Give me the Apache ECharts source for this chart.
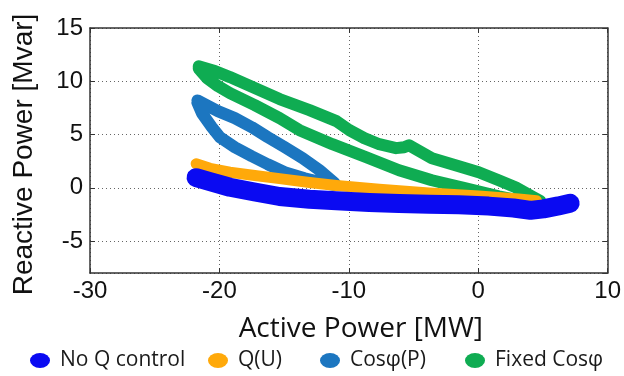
<!DOCTYPE html>
<html>
<head>
<meta charset="utf-8">
<script src="https://cdn.jsdelivr.net/npm/echarts@6/dist/echarts.min.js"></script>
<style>html,body{margin:0;padding:0;background:#fff}#c{width:624px;height:376px}</style>
</head>
<body>
<div id="c"></div>
<script>
// Series names (legend)
var seriesNames = ['No Q control', 'Q(U)', 'Cos\u03c6(P)', 'Fixed Cos\u03c6'];
// Axis ticks
var xTicks = [-30, -20, -10, 0, 10];
var yTicks = [-5, 0, 5, 10, 15];

// No Q control: [active power MW, reactive power Mvar]
var noQ = [[-21.8,0.95],[-20.73,0.58],[-19.19,0.05],[-17.27,-0.4],[-15.35,-0.82],[-13.04,-1.08],[-10.96,-1.22],[-8.42,-1.38],[-6.12,-1.47],[-3.81,-1.55],[-1.5,-1.6],[0.81,-1.72],[2.73,-1.9],[4.04,-2.12],[5.04,-1.98],[6.19,-1.7],[7.1,-1.45]];
// Q(U)
var qU = [[-21.8,2.25],[-20.73,1.83],[-19.19,1.46],[-17.27,1.16],[-15.35,0.86],[-13.04,0.5],[-10.96,0.22],[-7.65,-0.14],[-3.81,-0.5],[0.04,-0.78],[3.12,-1.06],[4.5,-1.22]];
// Cos phi(P): upper branch (tip -> right), lower branch (right -> tip)
var cosPUpper = [[-21.7,8.2],[-20.12,7.2],[-18.81,6.54],[-17.5,5.69],[-16.27,4.75],[-14.96,3.81],[-13.58,2.78],[-12.27,1.65],[-11.1,0.45]];
var cosPLower = [[-11.1,0.25],[-12.12,0.52],[-13.42,0.89],[-14.96,1.46],[-16.27,2.21],[-17.5,2.96],[-18.81,3.81],[-19.96,4.75],[-20.58,5.69],[-21.35,7.0],[-21.7,8.0]];
// Fixed Cos phi: upper branch (tip -> right), lower branch (right -> tip)
var fixedUpper = [[-21.6,11.4],[-20.35,10.96],[-19.19,10.39],[-17.27,9.36],[-15.35,8.33],[-13.04,7.29],[-10.96,6.26],[-9.96,5.41],[-8.81,4.66],[-7.65,4.09],[-6.35,3.72],[-5.73,3.81],[-5.35,4.0],[-3.58,2.78],[-1.5,2.02],[0.04,1.46],[1.58,0.71],[2.88,0.05],[4.12,-0.8],[4.8,-1.25]];
var fixedLower = [[4.8,-1.4],[3.5,-1.27],[1.58,-0.8],[-0.96,-0.05],[-3.58,0.71],[-6.12,1.65],[-8.65,2.87],[-11.27,4.09],[-13.81,5.41],[-15.35,6.54],[-17.27,7.76],[-19.19,8.89],[-20.12,9.55],[-20.96,10.3],[-21.6,11.2]];

var colors = ['#0a0af2', '#ffa90a', '#1c76c0', '#0fac52'];

var chart = echarts.init(document.getElementById('c'), null, {renderer: 'canvas'});
var frame = {show: true, onZero: false, lineStyle: {color: '#333', width: 1.5}};
var tick = {show: true, inside: true, length: 5, lineStyle: {color: '#333', width: 1}};
var grid = {show: true, lineStyle: {color: '#666', width: 1, type: [1, 3]}};

function lineSeries(name, data, color, width, z) {
  return {
    name: name, type: 'line', data: data, showSymbol: false, symbol: 'circle', symbolSize: 0,
    color: color, z: z, animation: false, silent: true,
    lineStyle: {color: color, width: width, cap: 'round', join: 'round'}
  };
}

function legendItem(name, left) {
  return {
    data: [{name: name, icon: 'path://M0,7.5a10,7.5 0 1,0 20,0a10,7.5 0 1,0 -20,0'}],
    left: left, top: 350, padding: 0, itemWidth: 20, itemHeight: 16, itemGap: 0,
    selectedMode: false,
    textStyle: {fontFamily: 'Open Sans', fontSize: 21, color: '#1a1a1a', padding: [0, 0, 0, 5]}
  };
}

chart.setOption({
  animation: false,
  backgroundColor: '#fff',
  grid: {left: 90, top: 28, right: 15, bottom: 103, containLabel: false},
  legend: [
    legendItem(seriesNames[0], 30),
    legendItem(seriesNames[1], 208),
    legendItem(seriesNames[2], 320),
    legendItem(seriesNames[3], 465)
  ],
  xAxis: [{
    type: 'value', min: xTicks[0], max: xTicks[xTicks.length - 1], interval: 10, position: 'bottom',
    axisLine: frame, axisTick: tick, splitLine: grid,
    axisLabel: {fontFamily: 'Liberation Sans', fontSize: 24, color: '#111', margin: 6},
    name: 'Active Power [MW]', nameLocation: 'middle', nameGap: 42,
    nameTextStyle: {fontFamily: 'Open Sans', fontSize: 28, color: '#111', padding: [0, 0, 0, 24]}
  }, {
    type: 'value', min: xTicks[0], max: xTicks[xTicks.length - 1], interval: 10, position: 'top',
    axisLine: frame, axisTick: tick, splitLine: {show: false}, axisLabel: {show: false}
  }],
  yAxis: [{
    type: 'value', min: -8, max: 15, splitNumber: 5, position: 'left',
    axisLine: frame, axisTick: tick, splitLine: grid,
    axisLabel: {fontFamily: 'Liberation Sans', fontSize: 24, color: '#111', margin: 7, showMinLabel: false,
      formatter: function (v) { return yTicks.indexOf(v) >= 0 ? String(v) : ''; }},
    name: 'Reactive Power [Mvar]', nameLocation: 'middle', nameGap: 52,
    nameTextStyle: {fontFamily: 'Liberation Sans', fontSize: 28, color: '#111', padding: [0, 8, 0, 0]}
  }, {
    type: 'value', min: -8, max: 15, splitNumber: 5, position: 'right',
    axisLine: frame, axisTick: tick, splitLine: {show: false}, axisLabel: {show: false}
  }],
  series: [
    lineSeries(seriesNames[3], fixedUpper.concat(fixedLower), colors[3], 12, 2),
    lineSeries(seriesNames[2], cosPUpper.concat(cosPLower), colors[2], 12, 3),
    lineSeries(seriesNames[1], qU, colors[1], 11, 4),
    lineSeries(seriesNames[0], noQ, colors[0], 19, 5)
  ]
});
</script>
</body>
</html>
